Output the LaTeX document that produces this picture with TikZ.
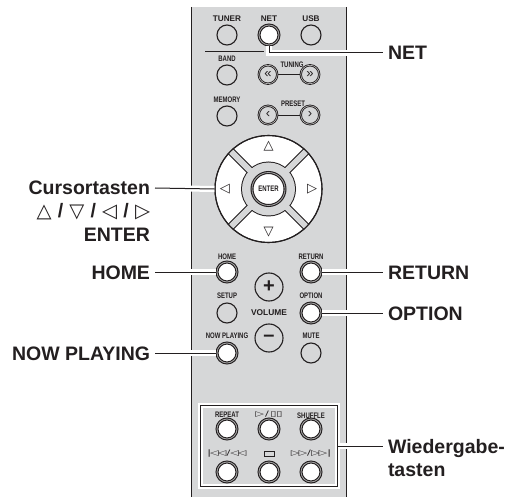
\documentclass[tikz,border=0pt]{standalone}
\usepackage{fontspec}
\setmainfont{Liberation Sans}
\newfontfamily\symfont{DejaVu Sans}
\newfontfamily\symwide[FakeStretch=1.5]{DejaVu Sans}
\newfontfamily\narrowfont[FakeStretch=0.75]{Liberation Sans}
\usepackage{xcolor}
\usetikzlibrary{shapes.geometric, positioning}
\definecolor{inkblack}{HTML}{231F20}
\definecolor{bodygray}{HTML}{D6D7D8}
\newcommand{\markslash}{{\normalfont\bfseries/}}
\tikzset{
  softbtn/.style={circle, draw=inkblack, line width=1.1pt, fill=bodygray, minimum size=20pt, inner sep=0pt},
  hardbtn/.style={circle, draw=inkblack, line width=1.1pt, double=gray!70, double distance=0.8pt, fill=white, minimum size=20pt, inner sep=0pt},
  seekbtn/.style={softbtn, line width=0.9pt, double=gray!30, double distance=0.5pt, minimum size=18.5pt, font=\fontsize{13}{13}\selectfont, text=inkblack},
  volbtn/.style={circle, draw=inkblack, line width=1.1pt, fill=bodygray, minimum size=28pt, inner sep=0pt, font=\fontsize{20}{20}\selectfont\bfseries, text=inkblack},
  btntext/.style={font=\fontsize{8}{8}\selectfont\narrowfont\bfseries, text=inkblack, inner sep=0pt},
  widetext/.style={font=\fontsize{8.2}{8}\selectfont\bfseries, text=inkblack, inner sep=0pt},
  symtext/.style={font=\fontsize{7.5}{8}\selectfont\symwide, text=inkblack, inner sep=0pt},
  padmark/.style={font=\fontsize{13}{13}\selectfont\symfont, text=inkblack, inner sep=0pt},
  calllabel/.style={font=\fontsize{19.5}{23}\selectfont\bfseries, text=inkblack, inner sep=0pt, outer sep=5pt, text height=14pt, text depth=0pt},
  lead/.style={draw=inkblack, line width=1pt, preaction={draw=white, line width=6pt}},
  thinline/.style={draw=inkblack, line width=0.9pt},
}
\begin{document}
\begin{tikzpicture}[x=1pt, y=-1pt, node distance=42pt and 42pt, on grid]
  \useasboundingbox (0,0) rectangle (514,497);

  %% Remote body
  \node[rectangle, fill=bodygray, minimum width=154pt, minimum height=490pt, inner sep=0pt] (remote) at (269,252) {};
  \draw[thinline, line width=1.1pt] (remote.north west) -- (remote.south west);
  \draw[thinline, line width=1.1pt] (remote.north east) -- (remote.south east);

  %% Source row
  \node[softbtn] (tuner) at (227,35) {};
  \node[hardbtn, right=of tuner] (net) {};
  \node[softbtn, right=of net] (usb) {};
  \node[widetext, above=16pt of tuner] (tunertxt) {TUNER};
  \node[widetext, above=16pt of net] (nettxt) {NET};
  \node[widetext, above=16pt of usb] (usbtxt) {USB};
  \coordinate (sepstart) at (205,51);
  \coordinate (sepend) at (264,51);
  \draw[thinline] (sepstart) -- (sepend);

  %% Tuner keys
  \node[softbtn, below=40pt of tuner] (band) {};
  \node[softbtn, below=41pt of band] (memory) {};
  \node[seekbtn] (tunleft) at (268,74.5) {«};
  \node[seekbtn, right=42pt of tunleft] (tunright) {»};
  \node[seekbtn] (preleft) at (268,115) {‹};
  \node[seekbtn, right=42pt of preleft] (preright) {›};
  \draw[thinline] (tunleft) -- (tunright);
  \draw[thinline] (preleft) -- (preright);
  \node[btntext, above=16pt of band] (bandtxt) {BAND};
  \node[btntext, above=16pt of memory] (memorytxt) {MEMORY};
  \node[btntext] (tuningtxt) at (292,65) {TUNING};
  \node[btntext] (presettxt) at (293,104) {PRESET};

  %% Cursor pad
  \node[circle, draw=inkblack, line width=1.1pt, fill=white, minimum size=107pt, inner sep=0pt] (dpad) at (268.5,189) {};
  \draw[line width=8pt, inkblack] (dpad.45) -- (dpad.225);
  \draw[line width=8pt, inkblack] (dpad.135) -- (dpad.315);
  \node[circle, fill=inkblack, minimum size=55pt, inner sep=0pt] (padring) at (dpad.center) {};
  \draw[line width=6pt, bodygray] (dpad.45) -- (dpad.225);
  \draw[line width=6pt, bodygray] (dpad.135) -- (dpad.315);
  \node[circle, fill=bodygray, minimum size=53pt, inner sep=0pt] (padcore) at (dpad.center) {};
  \draw[inkblack, line width=1.1pt] (dpad.center) circle[radius=53.5];
  \node[hardbtn, minimum size=33pt, font=\fontsize{8}{8}\selectfont\narrowfont\bfseries, text=inkblack] (enter) at (dpad.center) {ENTER};
  \node[padmark, above=38pt of dpad.center] (padup) {△};
  \node[padmark, below=38pt of dpad.center] (paddown) {▽};
  \node[padmark, left=38.5pt of dpad.center] (padleft) {◁};
  \node[padmark, right=38.5pt of dpad.center] (padright) {▷};

  %% Menu keys
  \node[hardbtn] (home) at (227,272) {};
  \node[hardbtn] (return) at (311,272) {};
  \node[softbtn, below=41pt of home] (setup) {};
  \node[hardbtn, below=41pt of return] (option) {};
  \node[hardbtn, below=40pt of setup] (nowplaying) {};
  \node[softbtn, below=40pt of option] (mute) {};
  \node[volbtn] (volup) at (269,287) {+};
  \node[volbtn] (voldown) at (269,338) {--};
  \node[widetext, font=\fontsize{8.4}{8}\selectfont\bfseries] (volumetxt) at (269,313) {VOLUME};
  \node[btntext, above=15pt of home] (hometxt) {HOME};
  \node[btntext, above=15pt of return] (returntxt) {RETURN};
  \node[btntext, above=17pt of setup] (setuptxt) {SETUP};
  \node[btntext, above=17pt of option] (optiontxt) {OPTION};
  \node[btntext, above=17pt of nowplaying] (nowplayingtxt) {NOW PLAYING};
  \node[btntext, above=17pt of mute] (mutetxt) {MUTE};

  %% Playback group
  \node[rectangle, thinline, line width=1.1pt, preaction={draw=white, line width=5pt}, minimum width=137pt, minimum height=81pt, inner sep=0pt] (playbox) at (269,446) {};
  \node[hardbtn] (repeat) at (227,429) {};
  \node[hardbtn, right=of repeat] (play) {};
  \node[hardbtn, right=of play] (shuffle) {};
  \node[hardbtn, below=43pt of repeat] (skipback) {};
  \node[hardbtn, right=of skipback] (stop) {};
  \node[hardbtn, right=of stop] (skipfwd) {};
  \node[btntext, above=14pt of repeat] (repeattxt) {REPEAT};
  \node[symtext, above=15pt of play] (playtxt) {▷\,/\,▯▯};
  \node[btntext, above=13pt of shuffle] (shuffletxt) {SHUFFLE};
  \node[symtext, above=18pt of skipback] (skipbacktxt) {|\kern-1pt◁\kern-1pt◁/◁\kern-1pt◁};
  \node[rectangle, draw=inkblack, line width=0.9pt, minimum width=10pt, minimum height=5pt, inner sep=0pt, above=18pt of stop] (stoptxt) {};
  \node[symtext, above=18pt of skipfwd] (skipfwdtxt) {▷\kern-1pt▷/▷\kern-1pt▷|};

  %% Callout labels
  \node[calllabel, anchor=east] (cursorlabel) at (155,188) {Cursortasten};
  \node[calllabel, below=23pt of cursorlabel.east, anchor=east, font=\fontsize{19.5}{23}\selectfont\symfont] (marklabel) {△ \markslash{} ▽ \markslash{} ◁ \markslash{} ▷};
  \node[calllabel, below=46pt of cursorlabel.east, anchor=east] (enterlabel) {ENTER};
  \node[calllabel, anchor=east] (homelabel) at (155,272) {HOME};
  \node[calllabel, anchor=east] (nowplayinglabel) at (155,353) {NOW PLAYING};
  \node[calllabel, anchor=west] (netlabel) at (383,53) {NET};
  \node[calllabel, anchor=west] (returnlabel) at (383,272) {RETURN};
  \node[calllabel, anchor=west] (optionlabel) at (383,313) {OPTION};
  \node[calllabel, anchor=west] (playlabel) at (383,446) {Wiedergabe-};
  \node[calllabel, below=23pt of playlabel.west, anchor=west] (tastenlabel) {tasten};

  \draw[lead] (net.south) |- (netlabel.west);
  \draw[lead] (cursorlabel.east) -- (dpad.west);
  \draw[lead] (homelabel.east) -- (home.west);
  \draw[lead] (nowplayinglabel.east) -- (nowplaying.west);
  \draw[lead] (return.east) -- (returnlabel.west);
  \draw[lead] (option.east) -- (optionlabel.west);
  \draw[lead] (playbox.east) -- (playlabel.west);

\end{tikzpicture}
\end{document}
